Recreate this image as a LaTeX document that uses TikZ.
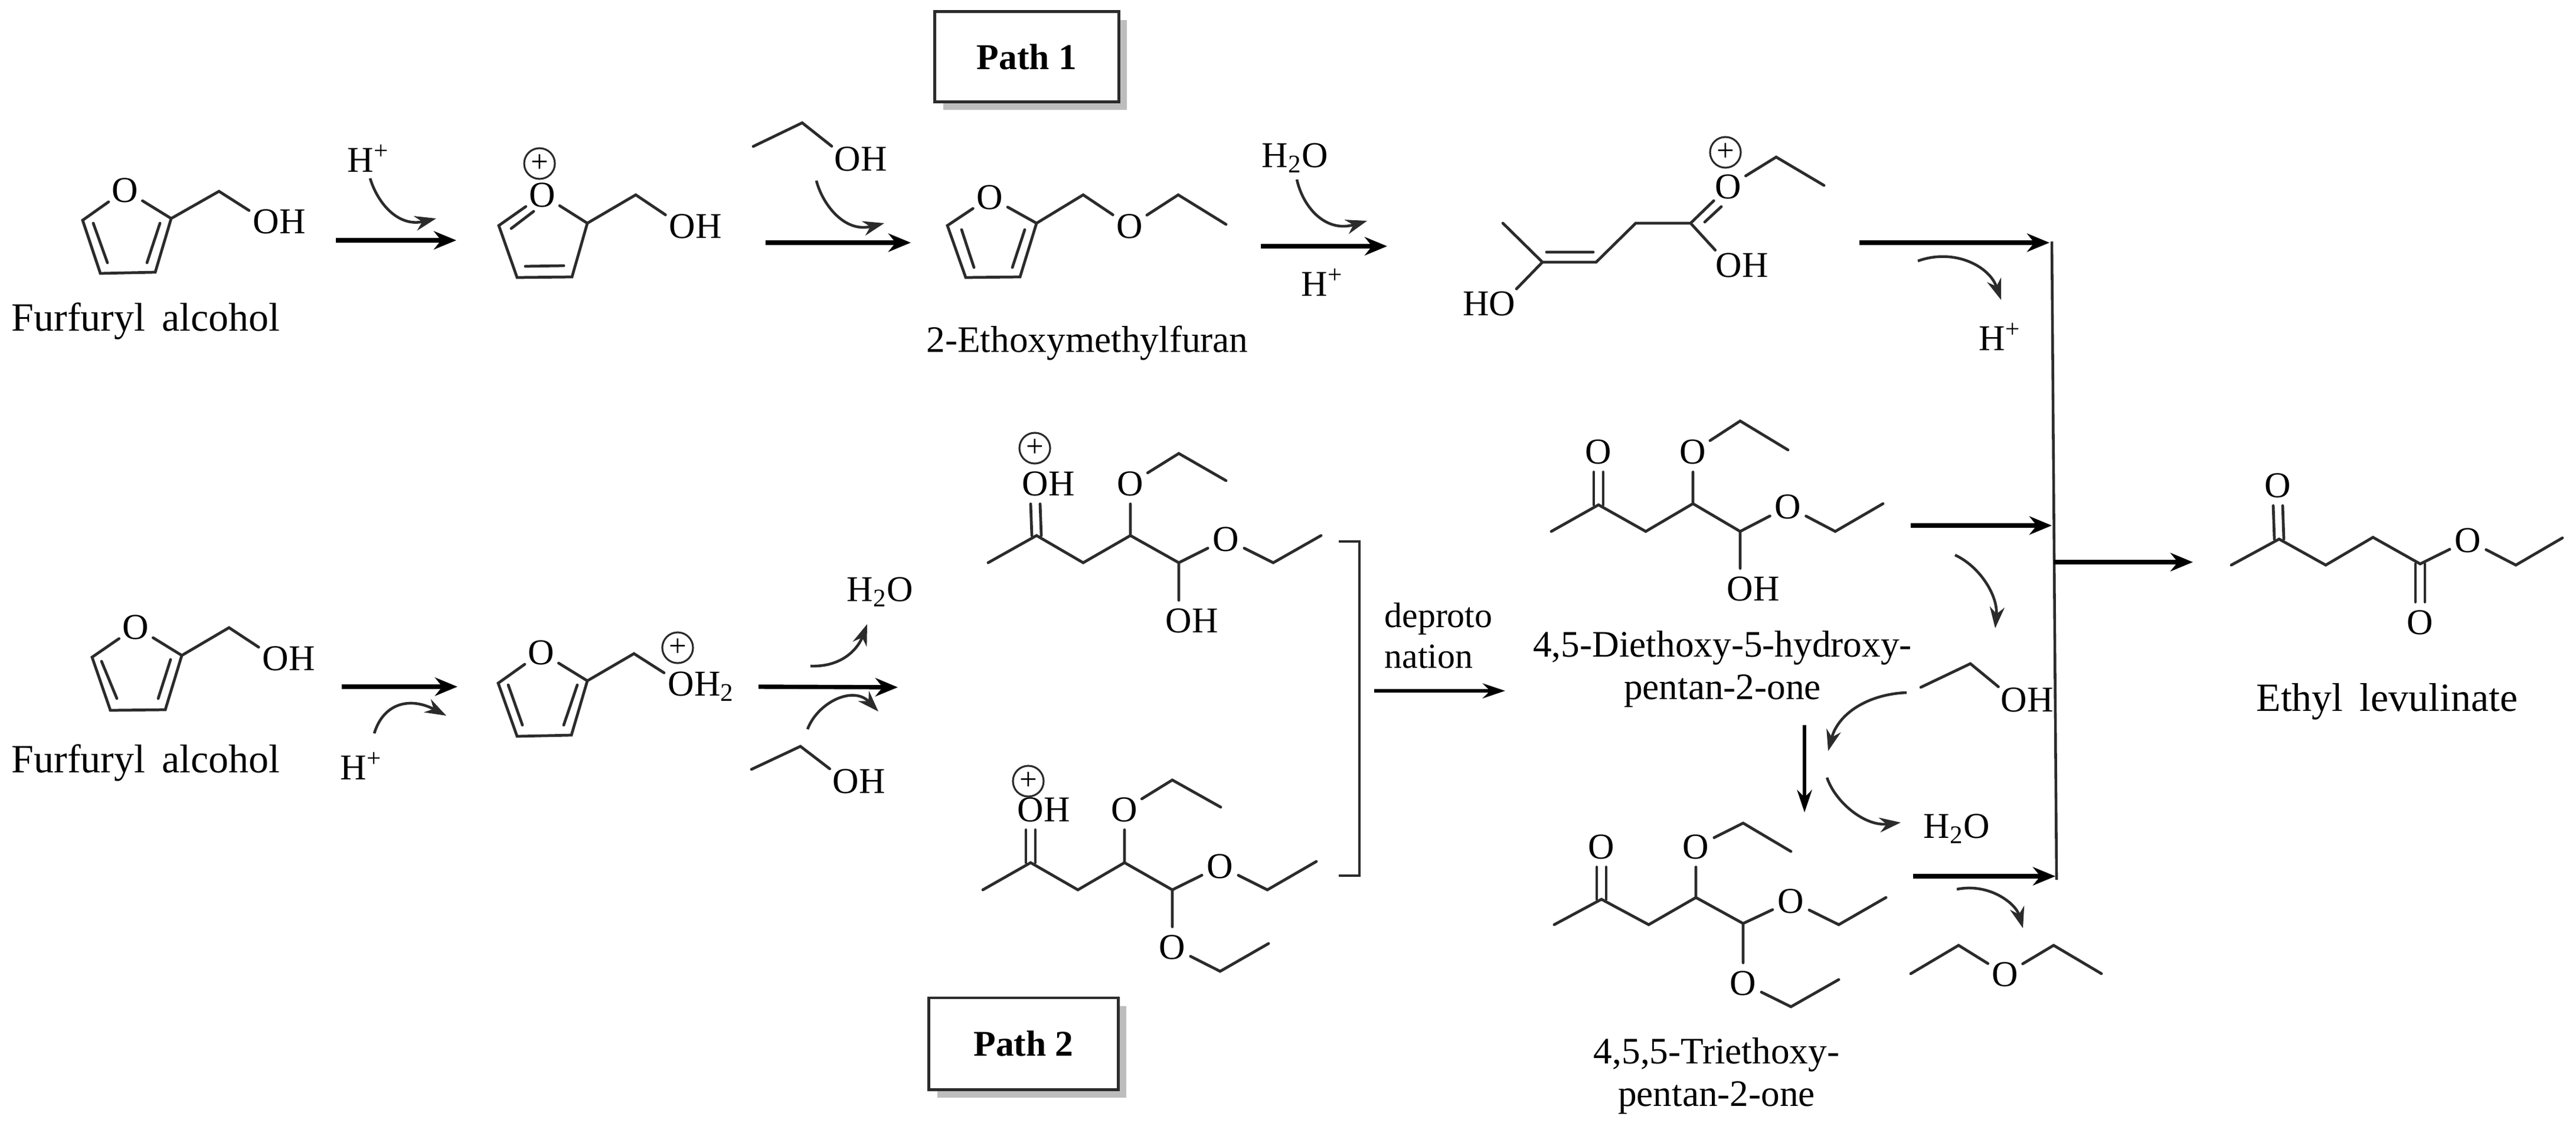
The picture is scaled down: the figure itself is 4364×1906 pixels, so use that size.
\documentclass[tikz,border=0pt]{standalone}
\usepackage{fontspec}
\setmainfont{Liberation Serif}
\usetikzlibrary{arrows.meta,calc,shadows}
\definecolor{ink}{HTML}{2B2B2B}
\definecolor{shade}{HTML}{BDBDBD}
\tikzset{
  bond/.style={draw=ink,line width=1.35pt,line cap=round,line join=miter},
  atom/.style={circle,inner sep=0pt,outer sep=1.2pt,text=black,font=\fontsize{17.5}{20}\selectfont},
  atomh/.style={inner sep=0pt,outer sep=0pt,text=black,font=\fontsize{17.5}{20}\selectfont},
  plusc/.style={circle,draw=ink,line width=0.9pt,minimum size=0.52cm,inner sep=0pt,font=\fontsize{15}{15}\selectfont},
  rxn/.style={draw=black,line width=2.1pt,-{Stealth[length=0.38cm,width=0.31cm]}},
  thinrxn/.style={draw=black,line width=1.8pt,-{Stealth[length=0.38cm,width=0.25cm]}},
  curve/.style={draw=ink,line width=1.3pt,-{Stealth[length=0.36cm,width=0.25cm]}},
  rail/.style={draw=ink,line width=1.3pt},
  lab/.style={inner sep=0pt,align=center,text=black,font=\fontsize{18}{21}\selectfont},
  lablg/.style={lab,font=\fontsize{19.3}{23}\selectfont},
  pathbox/.style={draw=ink,line width=1.4pt,fill=white,inner sep=0pt,font=\bfseries\fontsize{17.5}{20}\selectfont,
    general shadow={fill=shade,shadow xshift=0.14cm,shadow yshift=-0.14cm}}
}
\newcommand\Oat[3]{\node[atom] (#1) at (#2,#3) {O};}
\newcommand\OHat[3]{\node[atom] (#1) at (#2,#3) {O};\node[atomh,anchor=base west] (#1h) at ($(#1.base)+(22.5,0)$) {H};}
\newcommand\HOat[3]{\node[atom] (#1) at (#2,#3) {O};\node[atomh,anchor=base east] (#1h) at ($(#1.base)+(-22.5,0)$) {H};}
\newcommand\pts[1]{\foreach \n/\x/\y in {#1} {\coordinate (\n) at (\x,\y);}}
\begin{document}
\begin{tikzpicture}[x=0.01cm,y=-0.01cm]
\useasboundingbox (0,0) rectangle (4364,1906);
% boxes
\node[pathbox,minimum width=3.11cm,minimum height=1.52cm] (p1) at (1739.5,96) {Path 1};
\node[pathbox,minimum width=3.2cm,minimum height=1.55cm] (p2) at (1734,1767.5) {Path 2};

% ---------- Path 1: furfuryl alcohol
\pts{a2/290/370,a3/263/461,a4/170/463,a5/140/373,a6/371/324}
\Oat{ao}{212}{322}\OHat{aoh}{451}{375}
\draw[bond] (ao)--(a5)--(a4)--(a3)--(a2)--(ao) (a2)--(a6)--(aoh);
\draw[bond] (158,378)--(182,445) (271,378)--(249,445);
\node[lablg] (lf1) at (247,544) {Furfuryl\, alcohol};

% H+ / first arrow
\node[atomh] (hp1) at (624,268) {H\textsuperscript{+}};
\pts{c1s/627/302,r1s/569/407,r1e/773/407}
\coordinate (c1e) at (739,370);
\draw[curve] (c1s) .. controls (640,345) and (675,385) .. (c1e);
\draw[rxn] (r1s) -- (r1e);

% protonated furan
\pts{b2/995/378,b3/969/469,b4/876/470,b5/845/382,b6/1077/330}
\Oat{bo}{919}{330}\OHat{boh}{1156}{383}
\node[plusc] (bp) at (914,277) {+};
\draw[bond] (bo)--(b5)--(b4)--(b3)--(b2)--(bo) (b2)--(b6)--(boh);
\draw[bond] (904,358)--(866,387) (890,451)--(955,450);

% EtOH top
\pts{d1/1276/248,d2/1359/208}
\OHat{doh}{1436}{269}
\draw[bond] (d1)--(d2)--(doh);
\pts{c2s/1383/306,r2s/1297/411,r2e/1543/411}
\coordinate (c2e) at (1498,378);
\draw[curve] (c2s) .. controls (1393,345) and (1430,395) .. (c2e);
\draw[rxn] (r2s) -- (r2e);

% 2-ethoxymethylfuran
\pts{e2/1756/378,e3/1728/469,e4/1636/470,e5/1605/382,e6/1835/330,e7/1996/330,e8/2077/380}
\Oat{eo}{1677}{334}\Oat{eo2}{1914}{383}
\draw[bond] (eo)--(e5)--(e4)--(e3)--(e2)--(eo) (e2)--(e6)--(eo2)--(e7)--(e8);
\draw[bond] (1629,389)--(1650,453) (1736,389)--(1715,453);
\node[lab] (lem) at (1842,581) {2-Ethoxymethylfuran};

% H2O / H+ third arrow
\node[atomh] (w1) at (2194,268) {H\textsubscript{2}O};
\node[atomh] (hp2) at (2240,478) {H\textsuperscript{+}};
\pts{c3s/2197/304,r3s/2136/417,r3e/2350/417}
\coordinate (c3e) at (2316,374);
\draw[curve] (c3s) .. controls (2207,350) and (2245,395) .. (c3e);
\draw[rxn] (r3s) -- (r3e);

% enol ester cation
\pts{f1/2546/378,f2/2613/444,f3/2704/444,f4/2771/378,f5/2864/378,f6/3009/266,f7/3090/314}
\Oat{fo}{2928}{316}\OHat{foh}{2929}{449}\HOat{fho}{2545}{514}
\node[plusc] (fp) at (2923,258) {+};
\draw[bond] (f1)--(f2)--(f3)--(f4)--(f5)--(fo)--(f6)--(f7) (f5)--(foh) (f2)--(fho);
\draw[bond] (2620,427)--(2699,427) (2888,376)--(2916,350);

% rail and arrows to it
\pts{g1/3476/409,g2/3484/1490,r4s/3150/411,r4e/3472/411,r5s/3237/890,r5e/3476/890,r6s/3241/1484,r6e/3482/1484,r7s/3479/952,r7e/3715/952}
\draw[rail] (g1) -- (g2);
\draw[rxn] (r4s) -- (r4e);
\draw[rxn] (r5s) -- (r5e);
\draw[rxn] (r6s) -- (r6e);
\draw[rxn] (r7s) -- (r7e);
\node[atomh] (hp3) at (3388,570) {H\textsuperscript{+}};
\pts{c4s/3249/442,c5s/3312/940,c6s/3315/1506}
\coordinate (c4e) at (3390,508);
\coordinate (c5e) at (3380,1064);
\coordinate (c6e) at (3427,1572);
\draw[curve] (c4s) .. controls (3310,420) and (3370,450) .. (c4e);
\draw[curve] (c5s) .. controls (3355,960) and (3385,1010) .. (c5e);
\draw[curve] (c6s) .. controls (3370,1495) and (3415,1530) .. (c6e);

% ethyl levulinate
\pts{l1/3780/957,l2/3861/913,l3/3940/957,l4/4020/910,l5/4100/955,l6/4262/957,l7/4341/911}
\Oat{lo1}{3859}{822}\Oat{lo2}{4100}{1054}\Oat{lo3}{4181}{915}
\draw[bond] (l1)--(l2)--(l3)--(l4)--(l5)--(lo3)--(l6)--(l7);
\draw[bond] ($(l2)+(-8,0)$)--($(lo1.south)+(-8,0)$) ($(l2)+(8,0)$)--($(lo1.south)+(8,0)$);
\draw[bond] ($(l5)+(-8,0)$)--($(lo2.north)+(-8,0)$) ($(l5)+(8,0)$)--($(lo2.north)+(8,0)$);
\node[lablg] (lel) at (4044,1188) {Ethyl\, levulinate};

% ---------- Path 2: furfuryl alcohol
\pts{h2/308/1110,h3/280/1202,h4/187/1203,h5/156/1113,h6/388/1063}
\Oat{ho}{230}{1062}\OHat{hoh}{467}{1115}
\draw[bond] (ho)--(h5)--(h4)--(h3)--(h2)--(ho) (h2)--(h6)--(hoh);
\draw[bond] (172,1120)--(198,1183) (289,1117)--(268,1183);
\node[lablg] (lf2) at (247,1292) {Furfuryl\, alcohol};
\node[atomh] (hp4) at (612,1297) {H\textsuperscript{+}};
\pts{r8s/579/1163,r8e/775/1163,c7s/634/1242}
\coordinate (c7e) at (756,1212);
\draw[rxn] (r8s) -- (r8e);
\draw[curve] (c7s) .. controls (650,1190) and (695,1180) .. (c7e);

% protonated alcohol
\pts{i2/995/1153,i3/968/1245,i4/876/1247,i5/844/1157,i6/1074/1107}
\Oat{io}{917}{1105}\Oat{ioh}{1154}{1158}
\node[atomh,anchor=base west] (ioh2) at ($(ioh.base)+(22.5,0)$) {H\textsubscript{2}};
\node[plusc] (ip) at (1148,1097) {+};
\draw[bond] (io)--(i5)--(i4)--(i3)--(i2)--(io) (i2)--(i6)--(ioh);
\draw[bond] (861,1160)--(885,1228) (978,1160)--(955,1228);

\pts{r9s/1285/1163,r9e/1521/1164,c8s/1373/1128,c9s/1368/1235}
\coordinate (c8e) at (1469,1057);
\coordinate (c9e) at (1488,1205);
\draw[rxn] (r9s) -- (r9e);
\draw[curve] (c8s) .. controls (1430,1130) and (1455,1095) .. (c8e);
\draw[curve] (c9s) .. controls (1385,1190) and (1445,1160) .. (c9e);
\node[atomh] (w2) at (1491,1003) {H\textsubscript{2}O};
\pts{j1/1273/1303,j2/1356/1264}
\OHat{joh}{1433}{1323}
\draw[bond] (j1)--(j2)--(joh);

% cation A
\pts{k1/1674/953,k2/1756/907,k3/1835/953,k4/1915/907,k5/1997/953,k6/1997/768,k7/2077/814,k8/2157/953,k9/2238/907}
\OHat{ko1}{1754}{819}\Oat{ko2}{1915}{819}\Oat{ko3}{2077}{913}\OHat{ko4}{1997}{1051}
\node[plusc] (kp) at (1753,759) {+};
\draw[bond] (k1)--(k2)--(k3)--(k4)--(k5)--(ko3)--(k8)--(k9) (k4)--(ko2)--(k6)--(k7) (k5)--(ko4);
\draw[bond] ($(k2)+(-8,0)$)--($(ko1.south)+(-8,0)$) ($(k2)+(8,0)$)--($(ko1.south)+(8,0)$);

% cation B
\pts{m1/1665/1507,m2/1746/1461,m3/1826/1507,m4/1905/1461,m5/1986/1507,m6/1986/1321,m7/2068/1367,m8/2147/1507,m9/2230/1459,m10/2067/1645,m11/2149/1598}
\OHat{mo1}{1746}{1371}\Oat{mo2}{1905}{1371}\Oat{mo3}{2067}{1467}\Oat{mo4}{1986}{1604}
\node[plusc] (mp) at (1742,1323) {+};
\draw[bond] (m1)--(m2)--(m3)--(m4)--(m5)--(mo3)--(m8)--(m9) (m4)--(mo2)--(m6)--(m7) (m5)--(mo4)--(m10)--(m11);
\draw[bond] ($(m2)+(-8,0)$)--($(mo1.south)+(-8,0)$) ($(m2)+(8,0)$)--($(mo1.south)+(8,0)$);

% bracket and deprotonation
\pts{n1/2268/917,n2/2303/917,n3/2303/1483,n4/2268/1483,r10s/2328/1170,r10e/2550/1170}
\draw[rail] (n1)--(n2)--(n3)--(n4);
\draw[thinrxn] (r10s) -- (r10e);
\node[lab,anchor=west,font=\fontsize{17}{20}\selectfont] (ldp) at (2345,1083) {\begin{tabular}{@{}l@{}}deproto\\[-0.5pt]nation\end{tabular}};

% 4,5-diethoxy-5-hydroxy
\pts{q1/2628/900,q2/2708/855,q3/2788/900,q4/2868/853,q5/2948/900,q6/2948/713,q7/3029/762,q8/3109/900,q9/3190/853}
\Oat{qo1}{2708}{765}\Oat{qo2}{2868}{765}\Oat{qo3}{3029}{858}\OHat{qo4}{2948}{997}
\draw[bond] (q1)--(q2)--(q3)--(q4)--(q5)--(qo3)--(q8)--(q9) (q4)--(qo2)--(q6)--(q7) (q5)--(qo4);
\draw[bond] ($(q2)+(-8,0)$)--($(qo1.south)+(-8,0)$) ($(q2)+(8,0)$)--($(qo1.south)+(8,0)$);
\node[lab] (ldh) at (2918,1133) {4,5-Diethoxy-5-hydroxy-\\[-0.5pt]pentan-2-one};

% EtOH, down arrow, H2O
\pts{s1/3254/1164,s2/3338/1124}
\OHat{soh}{3412}{1185}
\draw[bond] (s1)--(s2)--(soh);
\pts{c10s/3230/1173,c11s/3095/1317,r11s/3057/1228,r11e/3057/1376}
\coordinate (c10e) at (3097,1272);
\coordinate (c11e) at (3220,1393);
\draw[curve] (c10s) .. controls (3170,1175) and (3115,1205) .. (c10e);
\draw[curve] (c11s) .. controls (3110,1360) and (3160,1400) .. (c11e);
\draw[thinrxn] (r11s) -- (r11e);
\node[atomh] (w3) at (3315,1404) {H\textsubscript{2}O};

% 4,5,5-triethoxy
\pts{t1/2633/1566,t2/2713/1523,t3/2793/1566,t4/2873/1520,t5/2953/1564,t6/2953/1394,t7/3034/1442,t8/3115/1566,t9/3195/1520,t10/3034/1705,t11/3115/1659}
\Oat{to1}{2713}{1434}\Oat{to2}{2873}{1434}\Oat{to3}{3034}{1526}\Oat{to4}{2953}{1665}
\draw[bond] (t1)--(t2)--(t3)--(t4)--(t5)--(to3)--(t8)--(t9) (t4)--(to2)--(t6)--(t7) (t5)--(to4)--(t10)--(t11);
\draw[bond] ($(t2)+(-8,0)$)--($(to1.south)+(-8,0)$) ($(t2)+(8,0)$)--($(to1.south)+(8,0)$);
\node[lab] (ltr) at (2908,1822) {4,5,5-Triethoxy-\\[-0.5pt]pentan-2-one};

% diethyl ether
\pts{u1/3237/1649,u2/3318/1601,u3/3479/1601,u4/3560/1649}
\Oat{uo}{3397}{1650}
\draw[bond] (u1)--(u2)--(uo)--(u3)--(u4);
\end{tikzpicture}
\end{document}
